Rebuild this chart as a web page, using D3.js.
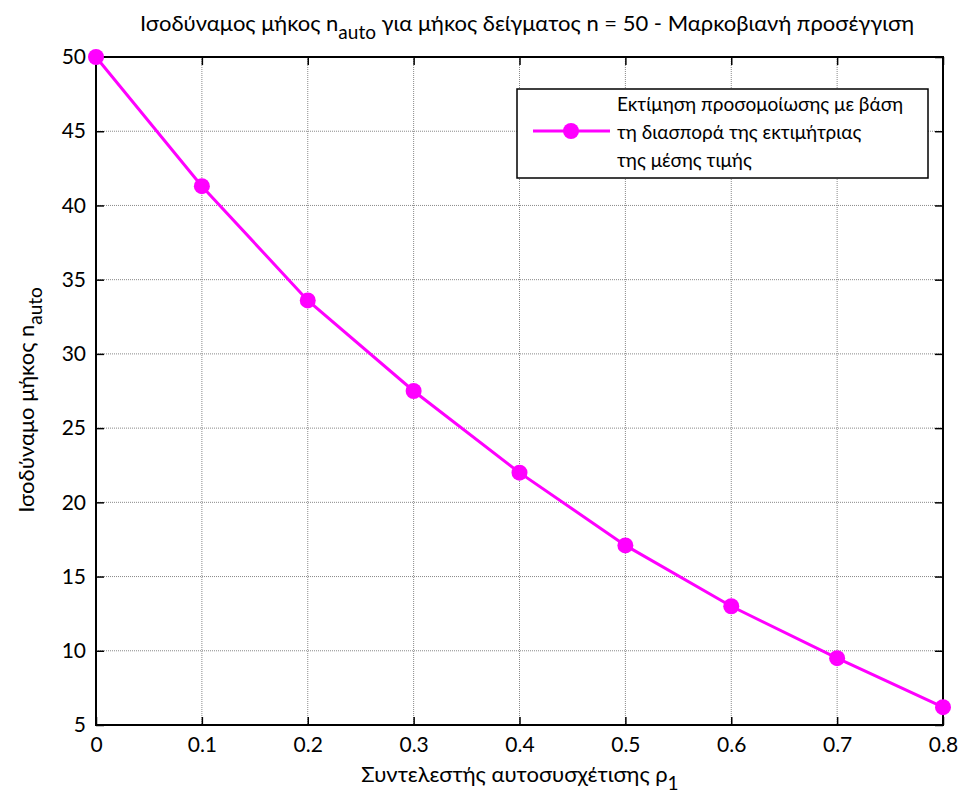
<!DOCTYPE html>
<html>
<head>
<meta charset="utf-8">
<script src="https://cdn.jsdelivr.net/npm/d3@7"></script>
<style>
  body { margin: 0; background: #fff; }
  text { font-family: Lato, "Open Sans", sans-serif; fill: #000; }
</style>
</head>
<body>
<div id="chart"></div>
<script>
const rho = [0, 0.1, 0.2, 0.3, 0.4, 0.5, 0.6, 0.7, 0.8];
const nAuto = [50, 41.3, 33.6, 27.5, 22.0, 17.1, 13.0, 9.5, 6.2];
const xTicks = [0, 0.1, 0.2, 0.3, 0.4, 0.5, 0.6, 0.7, 0.8];
const yTicks = [5, 10, 15, 20, 25, 30, 35, 40, 45, 50];
const legendLines = ["Εκτίμηση προσομοίωσης με βάση", "τη διασπορά της εκτιμήτριας", "της μέσης τιμής"];

const width = 963, height = 801;
const margin = {left: 96, right: 20, top: 57, bottom: 76};
const pw = 943 - margin.left, ph = 725 - margin.top;
const color = "#ff00ff";

const svg = d3.select("#chart").append("svg")
  .attr("width", width).attr("height", height);

const x = d3.scaleLinear().domain([0, 0.8]).range([margin.left, margin.left + pw]);
const y = d3.scaleLinear().domain([5, 50]).range([margin.top + ph, margin.top]);

// grid
const grid = svg.append("g");
grid.selectAll(".gx").data(xTicks).enter().append("line")
  .attr("x1", d => x(d)).attr("x2", d => x(d))
  .attr("y1", margin.top).attr("y2", margin.top + ph)
  .attr("stroke", "#888").attr("stroke-width", 1).attr("stroke-dasharray", "1,1");
grid.selectAll(".gy").data(yTicks).enter().append("line")
  .attr("x1", margin.left).attr("x2", margin.left + pw)
  .attr("y1", d => y(d)).attr("y2", d => y(d))
  .attr("stroke", "#888").attr("stroke-width", 1).attr("stroke-dasharray", "1,1");

// axes (ticks inward, on all sides)
svg.append("g").attr("transform", `translate(0,${margin.top + ph})`)
  .call(d3.axisBottom(x).tickValues(xTicks).tickSize(-8).tickPadding(12).tickFormat(d3.format("")))
  .call(g => g.select(".domain").remove());
svg.append("g").attr("transform", `translate(0,${margin.top})`)
  .call(d3.axisTop(x).tickValues(xTicks).tickSize(-8).tickFormat(""))
  .call(g => g.select(".domain").remove());
svg.append("g").attr("transform", `translate(${margin.left},0)`)
  .call(d3.axisLeft(y).tickValues(yTicks).tickSize(-8).tickPadding(10))
  .call(g => g.select(".domain").remove());
svg.append("g").attr("transform", `translate(${margin.left + pw},0)`)
  .call(d3.axisRight(y).tickValues(yTicks).tickSize(-8).tickFormat(""))
  .call(g => g.select(".domain").remove());

svg.selectAll(".tick line").attr("stroke", "#000").attr("stroke-width", 1.5);
svg.selectAll(".tick text").style("font-size", "21px").style("font-family", "Lato, 'Open Sans', sans-serif").attr("fill", "#000");

// box
svg.append("rect")
  .attr("x", margin.left).attr("y", margin.top).attr("width", pw).attr("height", ph)
  .attr("fill", "none").attr("stroke", "#000").attr("stroke-width", 2);

// line + markers
const line = d3.line().x((d, i) => x(rho[i])).y(d => y(d));
svg.append("path").datum(nAuto)
  .attr("d", line).attr("fill", "none").attr("stroke", color).attr("stroke-width", 3);
svg.selectAll(".pt").data(nAuto).enter().append("circle")
  .attr("cx", (d, i) => x(rho[i])).attr("cy", d => y(d)).attr("r", 8).attr("fill", color);

// title
const title = svg.append("text").attr("x", 527).attr("y", 31).attr("text-anchor", "middle")
  .style("font-size", "22px");
title.append("tspan").text("Ισοδύναμος μήκος n");
title.append("tspan").attr("dy", 8).style("font-size", "19px").text("auto");
title.append("tspan").attr("dy", -8).text(" για μήκος δείγματος n = 50 - Μαρκοβιανή προσέγγιση");

// x label
const xl = svg.append("text").attr("x", 520).attr("y", 782).attr("text-anchor", "middle")
  .style("font-size", "22px");
xl.append("tspan").text("Συντελεστής αυτοσυσχέτισης ρ");
xl.append("tspan").attr("dy", 8).style("font-size", "19px").text("1");

// y label
const yl = svg.append("text").attr("transform", `translate(34,400) rotate(-90)`)
  .attr("text-anchor", "middle").style("font-size", "22px");
yl.append("tspan").text("Ισοδύναμο μήκος  n");
yl.append("tspan").attr("dy", 8).style("font-size", "19px").text("auto");

// legend
const lg = svg.append("g").attr("transform", "translate(517,89)");
lg.append("rect").attr("width", 411).attr("height", 89)
  .attr("fill", "#fff").attr("stroke", "#000").attr("stroke-width", 1.5);
lg.append("line").attr("x1", 16).attr("x2", 93).attr("y1", 42).attr("y2", 42)
  .attr("stroke", color).attr("stroke-width", 3);
lg.append("circle").attr("cx", 54).attr("cy", 42).attr("r", 8).attr("fill", color);
lg.selectAll(".lt").data(legendLines).enter().append("text")
  .attr("x", 100).attr("y", (d, i) => 22 + i * 28)
  .style("font-size", "19px").text(d => d);
</script>
</body>
</html>
